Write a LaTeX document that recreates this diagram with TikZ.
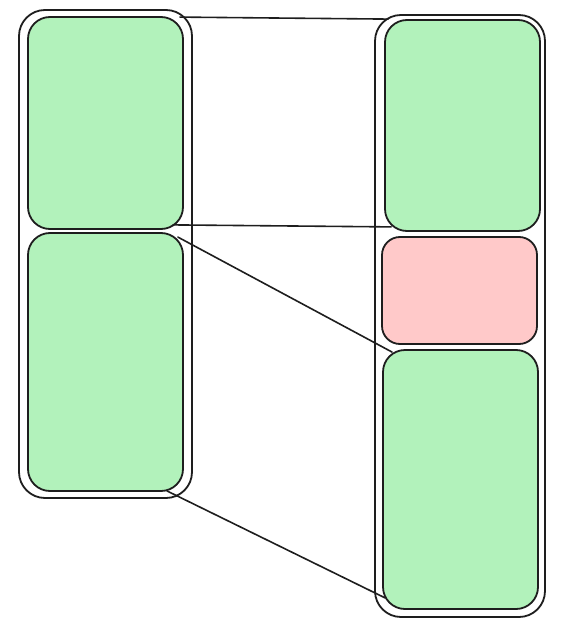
\documentclass[tikz,border=0pt]{standalone}
\usepackage{tikz}
\definecolor{ink}{HTML}{1E1E1E}
\definecolor{gfill}{HTML}{B2F2BB}
\definecolor{rfill}{HTML}{FFC9C9}
\tikzset{
  box/.style={draw=ink, line width=1.8pt, rounded corners=22pt, inner sep=0pt, anchor=center},
  outerbox/.style={box, rounded corners=26pt},
  greenbox/.style={box, fill=gfill},
  redbox/.style={box, fill=rfill, rounded corners=18pt},
  link/.style={draw=ink, line width=1.6pt, line cap=round},
}
\begin{document}
\begin{tikzpicture}[x=1pt,y=-1pt]
\useasboundingbox (0,0) rectangle (564,628);
% left column
\node[outerbox, minimum width=173pt, minimum height=488pt] (lo) at (105.5,254) {};
\node[greenbox, minimum width=155pt, minimum height=212pt] (lt) at (105.5,123) {};
\node[greenbox, minimum width=155pt, minimum height=258pt] (lb) at (105.5,362) {};
% right column
\node[outerbox, minimum width=170pt, minimum height=602pt] (ro) at (460,316) {};
\node[greenbox, minimum width=155pt, minimum height=211pt] (rt) at (462.5,125.5) {};
\node[redbox, minimum width=155pt, minimum height=107pt] (rr) at (459.5,290.5) {};
\node[greenbox, minimum width=155pt, minimum height=259pt] (rb) at (460.5,479.5) {};
% connectors
\draw[link] ([xshift=-4pt,yshift=-1pt]lt.north east) -- ([xshift=4pt]rt.north west);
\draw[link] ([xshift=-11pt,yshift=5pt]lt.south east) -- ([xshift=7pt,yshift=5pt]rt.south west);
\draw[link] ([xshift=-6pt,yshift=-5pt]lb.north east) -- ([xshift=10pt,yshift=-3pt]rb.north west);
\draw[link] ([xshift=-17pt,yshift=1pt]lb.south east) -- ([xshift=3pt,yshift=12pt]rb.south west);
\end{tikzpicture}
\end{document}
